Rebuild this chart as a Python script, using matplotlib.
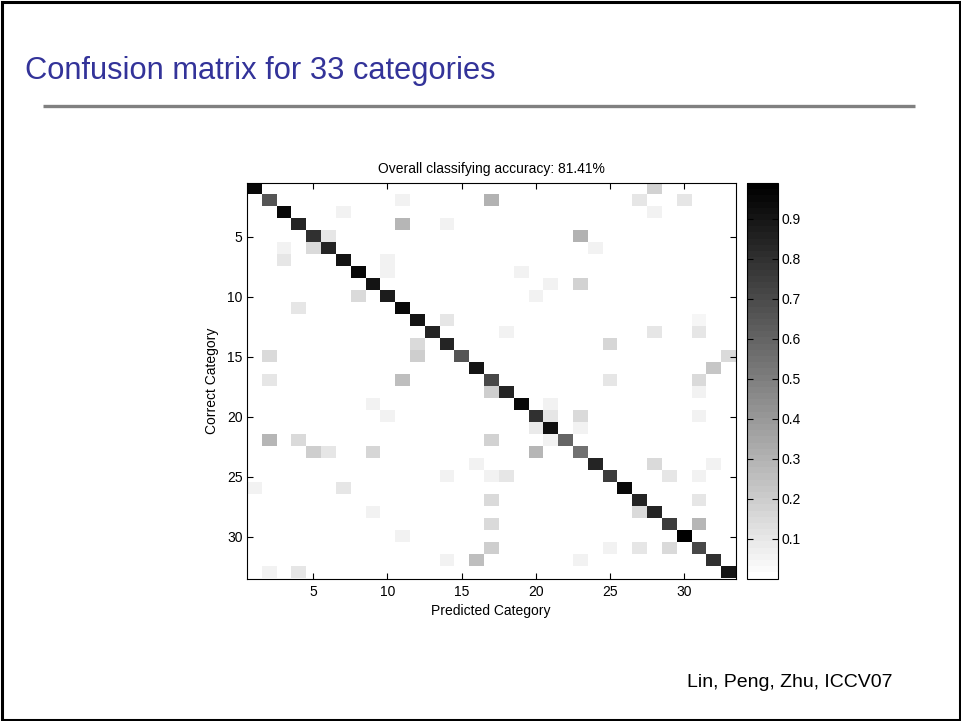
import numpy as np
import matplotlib
matplotlib.use("Agg")
import matplotlib.pyplot as plt
from matplotlib import font_manager
from matplotlib.patches import Rectangle
from matplotlib.lines import Line2D

# ---- data -------------------------------------------------------------
n_classes = 33

# per-class recognition rate (diagonal of the confusion matrix)
diag_vals = [0.95, 0.65, 0.95, 0.85, 0.80, 0.85, 0.90, 0.95, 0.90, 0.88,
             0.95, 0.90, 0.85, 0.85, 0.65, 0.90, 0.70, 0.85, 0.95, 0.80,
             0.92, 0.60, 0.55, 0.85, 0.75, 0.95, 0.85, 0.85, 0.75, 0.99,
             0.70, 0.80, 0.90]

# confusions: (correct category, predicted category, rate), 1-based
off_diag = [
    (1, 28, 0.18),
    (2, 11, 0.06), (2, 17, 0.30), (2, 27, 0.10), (2, 30, 0.10),
    (3, 7, 0.06), (3, 28, 0.05),
    (4, 11, 0.28), (4, 14, 0.06),
    (5, 6, 0.10), (5, 23, 0.30),
    (6, 3, 0.06), (6, 5, 0.15), (6, 24, 0.06),
    (7, 3, 0.10), (7, 10, 0.06),
    (8, 10, 0.06), (8, 19, 0.06),
    (9, 21, 0.05), (9, 23, 0.18),
    (10, 8, 0.15), (10, 20, 0.05),
    (11, 4, 0.10),
    (12, 14, 0.10), (12, 31, 0.04),
    (13, 18, 0.06), (13, 28, 0.10), (13, 31, 0.10),
    (14, 12, 0.15), (14, 25, 0.17),
    (15, 2, 0.15), (15, 12, 0.20), (15, 33, 0.15),
    (16, 32, 0.22),
    (17, 2, 0.10), (17, 11, 0.25), (17, 25, 0.10), (17, 31, 0.15),
    (18, 17, 0.20), (18, 31, 0.05),
    (19, 9, 0.05), (19, 21, 0.05),
    (20, 10, 0.05), (20, 21, 0.10), (20, 23, 0.15), (20, 31, 0.05),
    (21, 20, 0.08), (21, 23, 0.05),
    (22, 2, 0.28), (22, 4, 0.15), (22, 17, 0.18), (22, 21, 0.05),
    (23, 5, 0.20), (23, 6, 0.10), (23, 9, 0.16), (23, 20, 0.28),
    (24, 16, 0.06), (24, 28, 0.15), (24, 32, 0.06),
    (25, 14, 0.05), (25, 17, 0.05), (25, 18, 0.10), (25, 29, 0.10), (25, 31, 0.05),
    (26, 1, 0.06), (26, 7, 0.10),
    (27, 17, 0.15), (27, 31, 0.10),
    (28, 9, 0.06), (28, 27, 0.15),
    (29, 17, 0.15), (29, 31, 0.28),
    (30, 11, 0.05),
    (31, 17, 0.20), (31, 25, 0.06), (31, 27, 0.10), (31, 29, 0.15),
    (32, 14, 0.06), (32, 16, 0.25), (32, 23, 0.06),
    (33, 2, 0.06), (33, 4, 0.10),
]

x_ticks = [5, 10, 15, 20, 25, 30]
y_ticks = [5, 10, 15, 20, 25, 30]
cbar_ticks = [0.1, 0.2, 0.3, 0.4, 0.5, 0.6, 0.7, 0.8, 0.9]
accuracy_pct = 81.41

slide_title = "Confusion matrix for 33 categories"
citation = "Lin, Peng, Zhu, ICCV07"

# ---- build matrix -----------------------------------------------------
conf = np.zeros((n_classes, n_classes))
for i, v in enumerate(diag_vals):
    conf[i, i] = v
for r, c, v in off_diag:
    conf[r - 1, c - 1] = v

# ---- fonts ------------------------------------------------------------
installed = {f.name for f in font_manager.fontManager.ttflist}
body_font = "Liberation Sans" if "Liberation Sans" in installed else "DejaVu Sans"
if "Liberation Sans Narrow" in installed:
    title_font, title_size = "Liberation Sans Narrow", 27
else:
    title_font, title_size = body_font, 22.2

plt.rcParams["font.family"] = [body_font, "DejaVu Sans"]

W, H = 962, 721
fig = plt.figure(figsize=(W / 100, H / 100), dpi=100)
fig.patch.set_facecolor("white")

# slide frame
fig.add_artist(Rectangle((1.5 / W, 1.5 / H), 1 - 3 / W, 1 - 3 / H,
                         transform=fig.transFigure, fill=False,
                         edgecolor="black", linewidth=2.2))

# slide heading and rule
fig.text(25 / W, 1 - 79 / H, slide_title, family=[title_font, "DejaVu Sans"],
         fontsize=title_size, color="#333399", ha="left", va="baseline")
fig.add_artist(Line2D([43 / W, 915 / W], [1 - 106 / H] * 2,
                      transform=fig.transFigure, color="#808080", linewidth=2.4,
                      solid_capstyle="butt"))

# citation
fig.text(687 / W, 1 - 687 / H, citation, fontsize=14, color="black",
         ha="left", va="baseline")

# ---- confusion matrix -------------------------------------------------
ax_left, ax_bottom = 246.7 / W, (H - 578.5) / H
ax_w, ax_h = 489 / W, 395.5 / H
ax = fig.add_axes([ax_left, ax_bottom, ax_w, ax_h])

cmap = plt.get_cmap("gray_r", 64)
im = ax.imshow(conf, cmap=cmap, vmin=0, vmax=conf.max(),
               extent=(0.5, n_classes + 0.5, n_classes + 0.5, 0.5),
               aspect="auto", interpolation="nearest")

ax.set_xticks(x_ticks)
ax.set_yticks(y_ticks)
ax.tick_params(axis="both", direction="in", top=True, right=True,
               length=4, width=0.8, labelsize=10, colors="black")
ax.tick_params(axis="x", pad=5)
ax.tick_params(axis="y", pad=3)
for s in ax.spines.values():
    s.set_linewidth(0.8)
ax.set_xlabel("Predicted Category", fontsize=10, labelpad=3)
ax.set_ylabel("Correct Category", fontsize=10, labelpad=6)
ax.set_title(f"Overall classifying accuracy: {accuracy_pct:.2f}%",
             fontsize=10, pad=7)

# ---- colorbar ---------------------------------------------------------
cax = fig.add_axes([746.7 / W, ax_bottom, 31.6 / W, ax_h])
cb = fig.colorbar(im, cax=cax, ticks=cbar_ticks)
cb.ax.set_yticklabels([f"{t:.1f}" for t in cbar_ticks])
cb.ax.tick_params(direction="in", left=True, right=True, labelleft=False,
                  labelright=True, length=4, width=0.8, labelsize=10, pad=2)
cb.outline.set_linewidth(0.8)

fig.savefig("out.png", dpi=100, facecolor="white")
